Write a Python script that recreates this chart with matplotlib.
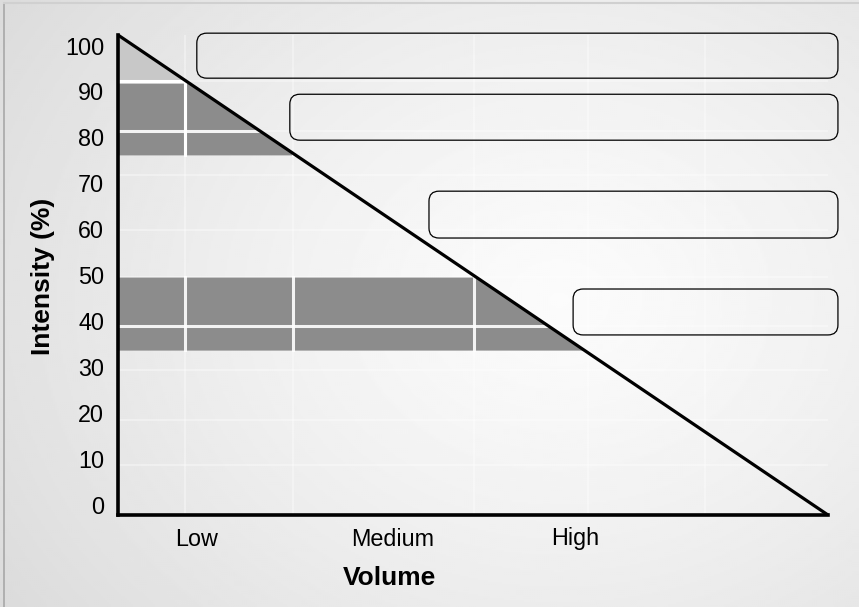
import numpy as np
import matplotlib.pyplot as plt
from matplotlib.patches import FancyBboxPatch
from matplotlib.lines import Line2D

plt.rcParams['font.family'] = ['Liberation Sans', 'DejaVu Sans']

# ---------- data ----------
intensity_ticks = [0, 10, 20, 30, 40, 50, 60, 70, 80, 90, 100]
volume_labels = ['Low', 'Medium', 'High']
volume_pos = [11.0, 38.7, 64.4]

y_top, y_bottom = 102.3, -2.2      # triangle apex / base
x_right = 100.0

top_zone = (92.3, 102.3)            # light grey cap
dark_bands = [(76.2, 91.8), (33.7, 49.6)]
grid_rows = [8.7, 18.5, 29.4, 39.0, 49.6, 59.8, 71.8, 81.4, 92.3]
grid_cols = [9.4, 24.6, 50.1, 66.2, 82.7]

# empty label boxes: x0, x1, y0, y1
box_x0 = [11.1, 24.2, 43.8, 64.1]
box_x1 = [101.4, 101.4, 101.4, 101.4]
box_y0 = [92.9, 79.4, 58.1, 37.0]
box_y1 = [102.7, 89.4, 68.3, 47.0]


def hyp_x(y):
    y = np.asarray(y, dtype=float)
    return x_right * (y_top - y) / (y_top - y_bottom)


# ---------- figure ----------
fig = plt.figure(figsize=(8.59, 6.07), dpi=100)

# radial background gradient
bg = fig.add_axes([0, 0, 1, 1], zorder=-10)
gx, gy = np.meshgrid(np.linspace(0, 859, 430), np.linspace(0, 607, 304))
d = np.sqrt(((gx - 560) / 520) ** 2 + ((gy - 300) / 420) ** 2)
shade = 0.985 - 0.09 * np.clip(d, 0, 1.3) ** 1.3
bg.imshow(shade, cmap='gray', vmin=0, vmax=1, extent=[0, 859, 607, 0], aspect='auto')
bg.set_xlim(0, 859)
bg.set_ylim(607, 0)
bg.axis('off')
fig.add_artist(Line2D([4 / 859, 4 / 859], [0, 1 - 3 / 607], transform=fig.transFigure, color='#a8a8a8', lw=1.2))
fig.add_artist(Line2D([4 / 859, 1], [1 - 3 / 607, 1 - 3 / 607], transform=fig.transFigure, color='#d0d0d0', lw=1.5))

ax = fig.add_axes([118 / 859, 1 - 515 / 607, (828 - 118) / 859, (515 - 35) / 607])
ax.set_facecolor('none')
ax.set_xlim(0, x_right)
ax.set_ylim(y_bottom, y_top)

# faint table grid
for r in grid_rows:
    ax.axhline(r, color='white', lw=1.5, alpha=0.35, zorder=1)
for c in grid_cols:
    ax.axvline(c, color='white', lw=1.5, alpha=0.35, zorder=1)

# shaded zones clipped to the triangle
ys = np.array(top_zone)
ax.fill_betweenx(ys, 0, hyp_x(ys), color='#c8c8c8', lw=0, zorder=2)
for y0, y1 in dark_bands:
    ys = np.array([y0, y1])
    ax.fill_betweenx(ys, 0, hyp_x(ys), color='#8c8c8c', lw=0, zorder=2)
    for r in grid_rows:
        if y0 < r < y1:
            ax.plot([0, hyp_x(r)], [r, r], color='white', lw=2.2, alpha=0.9, zorder=3)
    for c in grid_cols:
        if c < hyp_x(y0):
            ax.plot([c, c], [y0, min(y1, y_top - c * (y_top - y_bottom) / x_right)],
                    color='white', lw=2.2, alpha=0.9, zorder=3)
ax.plot([0, hyp_x(top_zone[0])], [top_zone[0], top_zone[0]], color='white', lw=2.2, zorder=3)
c = grid_cols[0]
ax.plot([c, c], [dark_bands[0][0], dark_bands[0][1]], color='white', lw=2.2, zorder=3)

# hypotenuse
ax.plot([0, x_right], [y_top, y_bottom], color='black', lw=2.3, zorder=5,
        solid_capstyle='butt', clip_on=False)

# rounded empty boxes
px_x = x_right / 710.0
px_y = (y_top - y_bottom) / 480.0
for x0, x1, y0, y1 in zip(box_x0, box_x1, box_y0, box_y1):
    box = FancyBboxPatch((x0, y0), x1 - x0, y1 - y0,
                         boxstyle='round,pad=0,rounding_size=%f' % (10 * px_x),
                         mutation_aspect=px_y / px_x,
                         fc='none', ec='black', lw=0.9, clip_on=False, zorder=6)
    ax.add_patch(box)

# axes styling
for s in ['top', 'right']:
    ax.spines[s].set_visible(False)
for s in ['left', 'bottom']:
    ax.spines[s].set_linewidth(2.6)
    ax.spines[s].set_color('black')
    ax.spines[s].set_zorder(7)
ax.set_yticks(intensity_ticks)
ax.set_yticklabels([str(t) for t in intensity_ticks], fontsize=16.8)
ax.set_xticks(volume_pos)
ax.set_xticklabels(volume_labels, fontsize=16.8)
ax.tick_params(axis='both', length=0)
ax.tick_params(axis='y', pad=10)
ax.tick_params(axis='x', pad=9)

fig.text(43 / 859, 1 - 276 / 607, 'Intensity (%)', rotation=90, ha='center', va='center',
         fontsize=19, fontweight='bold')
fig.text(389 / 859, 1 - 578 / 607, 'Volume', ha='center', va='center',
         fontsize=19, fontweight='bold')

fig.savefig('out.png', dpi=100)
